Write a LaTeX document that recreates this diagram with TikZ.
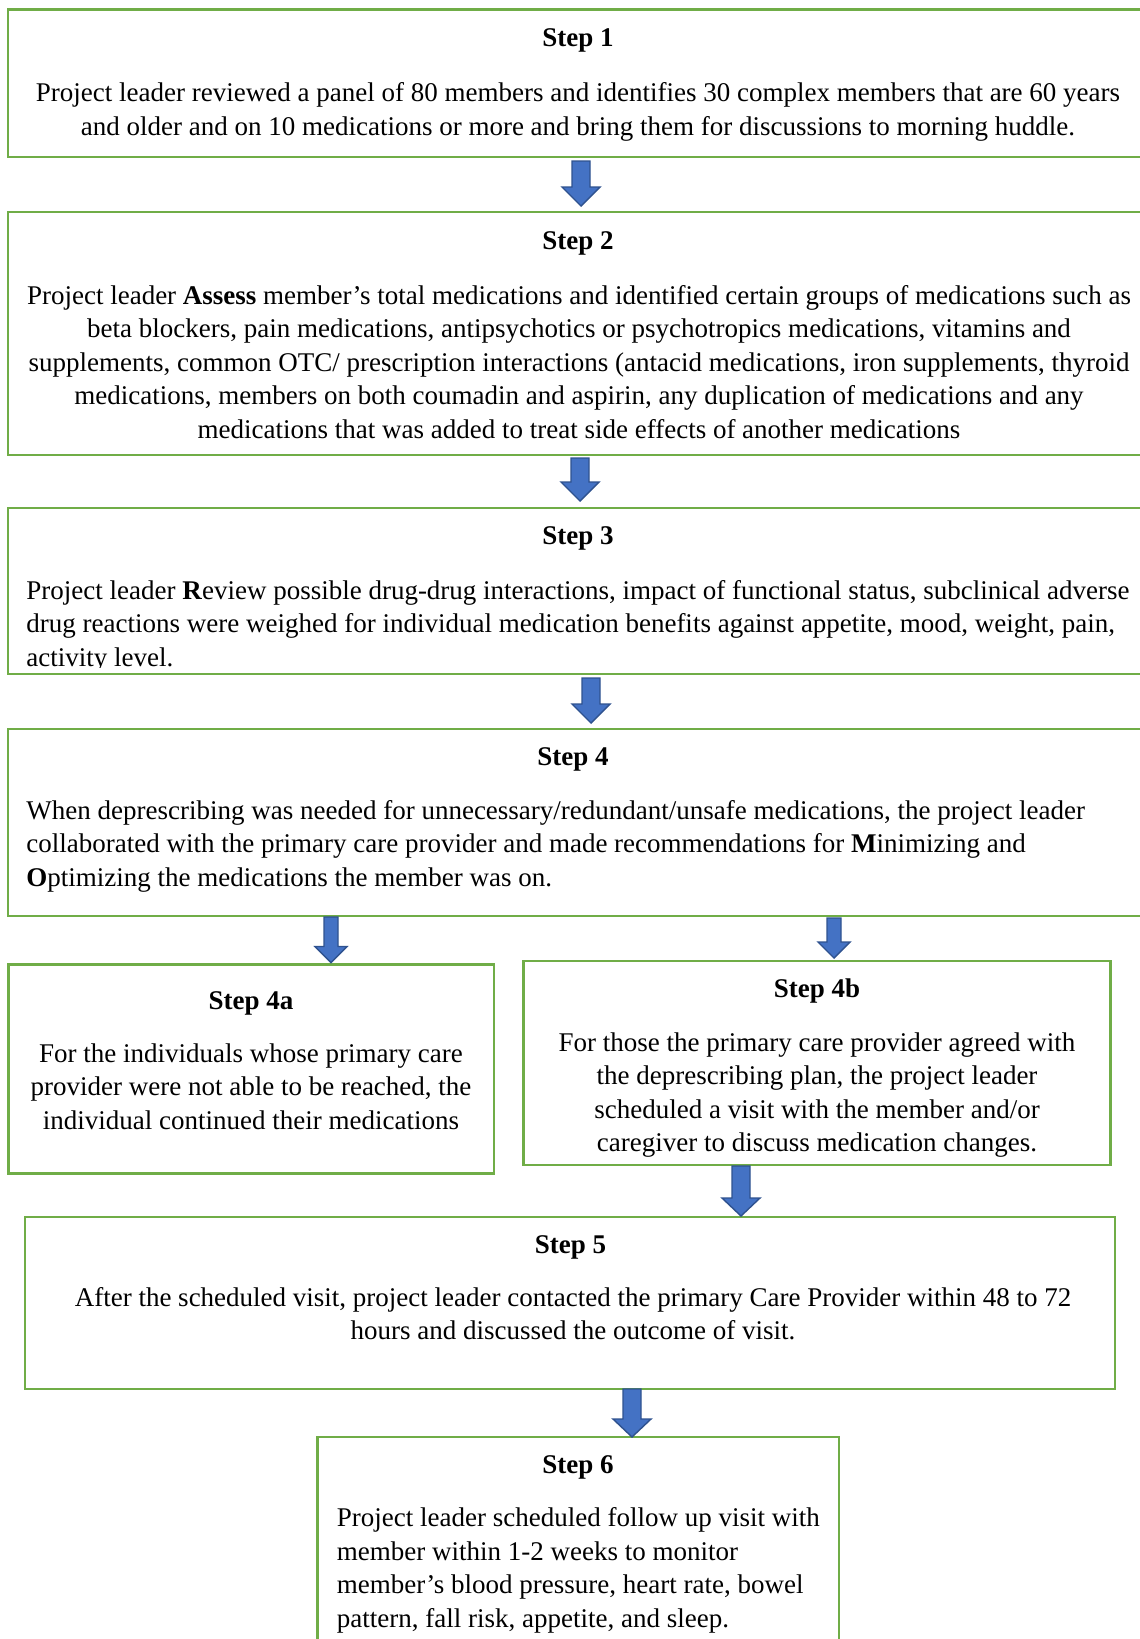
\documentclass[tikz,border=0pt]{standalone}
\usepackage{fontspec}
\setmainfont{Liberation Serif}
\usetikzlibrary{calc}

\definecolor{boxgreen}{HTML}{70AD47}
\definecolor{arrowfill}{HTML}{4472C4}
\definecolor{arrowline}{HTML}{2F528F}

\tikzset{
  stepbox/.style={draw=boxgreen, line width=1.1pt, rectangle, inner sep=0pt, outer sep=0pt, fill=none},
  steptitle/.style={font=\fontsize{13.5}{16.75}\selectfont\bfseries, inner sep=0pt, anchor=base},
  steptext/.style={font=\fontsize{13.5}{16.75}\selectfont, inner sep=0pt, anchor=base},
  blockarrow/.style={fill=arrowfill, draw=arrowline, line width=0.7pt, line join=miter},
}

% \stepframe{name}{x1}{y1}{x2}{y2}: an empty framed rectangle node
\newcommand\stepframe[5]{%
  \node[stepbox, minimum width={(#4-#2)*0.5pt}, minimum height={(#5-#3)*0.5pt}]
    (#1) at ({(#2+#4)/2},{(#3+#5)/2}) {};}

% \flowarrow{x}{from}{to}{top gap}{tip gap}{shaft half}{head half}{head length}
\newcommand\flowarrow[8]{%
  \path ($(#1,0 |- #2.south)+(0,#4)$) coordinate (ta)
        ($(#1,0 |- #3.north)+(0,-#5)$) coordinate (tb);
  \draw[blockarrow] ($(ta)+(-#6,0)$) -- ($(ta)+(#6,0)$) -- ($(tb)+(#6,-#8)$)
    -- ($(tb)+(#7,-#8)$) -- (tb) -- ($(tb)+(-#7,-#8)$) -- ($(tb)+(-#6,-#8)$) -- cycle;}

\begin{document}
\begin{tikzpicture}[x=0.5pt,y=-0.5pt]
\useasboundingbox (0,0) rectangle (1140,1639);
\clip (0,0) rectangle (1140,1639);
\fill[white] (0,0) rectangle (1140,1639);

% frames
\stepframe{b1}{8}{9.5}{1148}{157}
\stepframe{b2}{8}{212}{1148}{455}
\stepframe{b3}{8}{508}{1148}{674}
\stepframe{b4}{8}{729}{1148}{916}
\stepframe{b4a}{8.5}{964.5}{494}{1173.5}
\stepframe{b4b}{523.5}{961}{1110.5}{1165}
\stepframe{b5}{25}{1217}{1115}{1389}
\stepframe{b6}{317.5}{1437}{839}{1700}

% text nodes: the base anchor of a multi-line node sits on its last line

% Step 1
\node[steptitle] (t1) at (578,46.5) {Step 1};
\node[steptext, align=center] (x1) at (578,135) {Project leader reviewed a panel of 80 members and identifies 30 complex members that are 60 years\\
and older and on 10 medications or more and bring them for discussions to morning huddle.};

% Step 2
\node[steptitle] (t2) at (578,249) {Step 2};
\node[steptext, align=center] (x2) at (579,438) {Project leader \textbf{Assess} member’s total medications and identified certain groups of medications such as\\
beta blockers, pain medications, antipsychotics or psychotropics medications, vitamins and\\
supplements, common OTC/ prescription interactions (antacid medications, iron supplements, thyroid\\
medications, members on both coumadin and aspirin, any duplication of medications and any\\
medications that was added to treat side effects of another medications};

% Step 3 (last line runs into the frame edge)
\node[steptitle] (t3) at (578,544) {Step 3};
\begin{scope}
\clip (10,560) rectangle (1146,667);
\node[steptext, align=left, anchor=base west] (x3) at (26,666) {Project leader \textbf{R}eview possible drug-drug interactions, impact of functional status, subclinical adverse\\
drug reactions were weighed for individual medication benefits against appetite, mood, weight, pain,\\
activity level.};
\end{scope}

% Step 4
\node[steptitle] (t4) at (573,765.5) {Step 4};
\node[steptext, align=left, anchor=base west] (x4) at (26,886) {When deprescribing was needed for unnecessary/redundant/unsafe medications, the project leader\\
collaborated with the primary care provider and made recommendations for \textbf{M}inimizing and\\
\textbf{O}ptimizing the medications the member was on.};

% Step 4a
\node[steptitle] (t4a) at (251,1009.5) {Step 4a};
\node[steptext, align=center] (x4a) at (251,1129) {For the individuals whose primary care\\
provider were not able to be reached, the\\
individual continued their medications};

% Step 4b
\node[steptitle] (t4b) at (817,997.5) {Step 4b};
\node[steptext, align=center] (x4b) at (817,1151.5) {For those the primary care provider agreed with\\
the deprescribing plan, the project leader\\
scheduled a visit with the member and/or\\
caregiver to discuss medication changes.};

% Step 5
\node[steptitle] (t5) at (570.5,1253) {Step 5};
\node[steptext, align=center] (x5) at (573,1339.5) {After the scheduled visit, project leader contacted the primary Care Provider within 48 to 72\\
hours and discussed the outcome of visit.};

% Step 6
\node[steptitle] (t6) at (578,1473) {Step 6};
\node[steptext, align=left, anchor=base west] (x6) at (336.5,1627) {Project leader scheduled follow up visit with\\
member within 1-2 weeks to monitor\\
member’s blood pressure, heart rate, bowel\\
pattern, fall risk, appetite, and sleep.};

% connectors
\flowarrow{581}{b1}{b2}{4}{6}{9}{19}{19}
\flowarrow{580}{b2}{b3}{3}{7}{9}{19}{19}
\flowarrow{591}{b3}{b4}{4}{6}{9}{19}{19}
\flowarrow{331}{b4}{b4a}{1}{2}{7}{16}{16}
\flowarrow{834}{b4}{b4b}{2}{3}{7}{16}{16}
\flowarrow{741}{b4b}{b5}{1}{1}{9}{19}{18}
\flowarrow{632}{b5}{b6}{0}{0}{9}{19}{18}
\end{tikzpicture}
\end{document}
